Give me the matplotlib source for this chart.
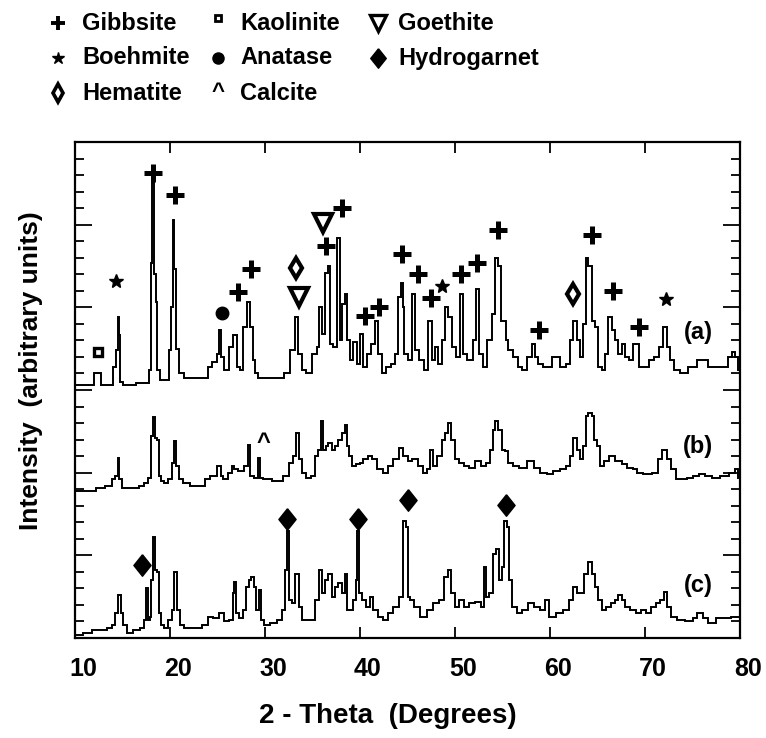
import matplotlib
matplotlib.use("Agg")
import matplotlib.pyplot as plt
from matplotlib.lines import Line2D
from matplotlib.transforms import ScaledTranslation
from matplotlib.ticker import MultipleLocator

plt.rcParams['font.family'] = ['Liberation Sans', 'DejaVu Sans']

# ---------------- data (2-theta in degrees, intensity in arbitrary units) -------------
a_theta = [10.0, 11.9, 12.2, 12.6, 12.8, 13.9, 14.2, 14.45, 14.56, 14.7, 14.85, 15.2, 17.7, 17.9,
           18.05, 18.25, 18.4, 18.55, 18.75, 19.1, 19.8, 20.0, 20.2, 20.35, 20.5, 20.7, 21.2, 21.8,
           23.9, 24.2, 24.7, 25.1, 25.26, 25.4, 25.9, 26.5, 26.84, 27.2, 27.5, 27.9, 28.25, 28.6,
           28.8, 29.1, 29.5, 31.6, 32.3, 33.0, 33.33, 33.7, 34.0, 34.6, 35.3, 35.6, 35.8, 36.1,
           36.5, 36.7, 37.0, 37.4, 37.72, 38.05, 38.25, 38.5, 38.8, 39.1, 39.5, 39.8, 40.2, 40.5,
           40.9, 41.4, 41.75, 42.1, 42.5, 43.0, 43.5, 43.9, 44.2, 44.4, 44.6, 44.75, 45.26, 45.61,
           45.96, 46.49, 47.02, 47.37, 47.72, 48.07, 48.42, 48.77, 49.12, 49.47, 49.82, 50.35,
           50.7, 51.05, 51.58, 52.11, 52.35, 52.63, 53.16, 53.68, 54.04, 54.39, 54.74, 54.91,
           55.26, 55.44, 55.79, 56.32, 56.84, 57.37, 57.89, 58.25, 58.6, 58.95, 59.65, 60.7,
           61.4, 61.93, 62.28, 62.63, 62.98, 63.33, 63.68, 63.86, 64.21, 64.56, 64.91, 65.26,
           65.61, 65.96, 66.32, 66.67, 67.02, 67.37, 67.72, 68.07, 68.6, 68.95, 69.3, 69.47,
           70.18, 70.7, 71.23, 71.75, 72.1, 72.46, 72.81, 73.33, 74.04, 75.09, 75.79, 76.32,
           77.02, 77.89, 78.42, 78.95, 79.3, 79.65, 80.0]
a_int = [15.3, 15.3, 16.0, 16.0, 15.3, 15.3, 16.4, 17.4, 19.4, 18.3, 15.5, 15.3, 15.4, 16.2,
         22.7, 27.5, 22.0, 20.3, 16.2, 15.6, 15.6, 17.4, 20.0, 25.3, 22.3, 17.5, 16.0, 15.7,
         15.7, 16.4, 16.7, 17.2, 18.6, 17.0, 16.2, 17.6, 18.3, 16.4, 16.2, 18.8, 20.35, 18.8,
         16.8, 16.0, 15.7, 15.7, 16.0, 17.4, 19.4, 17.2, 16.2, 16.0, 17.2, 17.6, 20.0, 18.4,
         22.1, 22.5, 17.8, 17.6, 24.2, 18.0, 20.2, 20.8, 18.0, 16.8, 17.9, 16.6, 18.4, 16.4,
         17.2, 17.8, 19.2, 17.2, 16.0, 16.4, 16.6, 17.2, 20.6, 21.5, 20.0, 17.2, 16.8, 20.8,
         17.4, 16.8, 16.2, 19.2, 16.8, 17.6, 16.6, 18.0, 20.0, 19.4, 17.6, 17.0,
         20.8, 17.2, 16.8, 18.0, 21.1, 17.2, 16.4, 18.0, 19.6, 23.0, 22.5, 19.2,
         19.2, 18.0, 17.4, 17.0, 16.4, 16.2, 17.0, 17.8, 17.0, 16.6, 16.4, 17.0,
         16.4, 16.6, 18.0, 19.2, 18.0, 17.0, 19.0, 23.0, 22.5, 19.2, 18.8, 16.4,
         16.2, 17.2, 19.4, 18.6, 18.0, 17.2, 17.8, 17.0, 16.8, 17.8, 17.8, 16.4,
         16.4, 16.8, 17.0, 17.6, 18.8, 17.6, 16.8, 16.2, 16.0, 16.4, 16.8, 16.8,
         16.4, 16.4, 16.4, 17.0, 17.3, 17.0, 16.2]

b_theta = [10.0, 11.9, 12.6, 13.7, 14.04, 14.39, 14.56, 14.74, 15.1, 16.5, 17.0, 17.54, 17.9,
           18.18, 18.32, 18.53, 18.70, 18.88, 19.12, 19.65, 20.0, 20.35, 20.53, 20.77, 21.05,
           21.75, 22.46, 23.51, 23.86, 24.56, 25.26, 25.44, 25.79, 26.32, 26.67, 26.84, 27.54,
           28.07, 28.25, 28.60, 29.12, 29.40, 29.54, 29.98, 31.58, 32.28, 32.81, 33.16, 33.44,
           33.75, 34.04, 34.56, 35.09, 35.44, 35.79, 35.96, 36.32, 36.49, 36.84, 37.19, 37.54,
           37.89, 38.25, 38.53, 38.67, 38.95, 39.3, 39.82, 40.18, 40.53, 41.05, 41.40, 42.11,
           42.63, 43.16, 43.86, 44.39, 44.74, 45.26, 45.79, 46.32, 46.84, 47.19, 47.54, 47.89,
           48.42, 48.77, 49.12, 49.4, 49.82, 50.18, 50.7, 51.23, 51.75, 52.46, 52.98, 53.51,
           53.86, 54.1, 54.39, 54.74, 55.09, 55.44, 55.79, 56.32, 57.19, 58.07, 58.6, 59.3,
           60.0, 60.7, 61.4, 61.93, 62.28, 62.63, 62.98, 63.33, 63.68, 63.86, 64.21, 64.56,
           64.74, 65.09, 65.44, 65.96, 66.49, 67.19, 67.89, 68.42, 68.95, 69.47, 70.18, 71.23,
           71.58, 72.1, 72.46, 72.98, 73.51, 74.04, 74.74, 75.44, 75.96, 76.67, 77.37, 78.42,
           79.3, 79.65, 80.0]
b_int = [8.9, 8.9, 9.1, 9.2, 9.6, 9.8, 10.9, 9.6, 9.1, 9.1, 9.2, 9.4, 9.7,
         12.2, 13.35, 12.1, 12.0, 9.8, 9.5, 9.4, 9.6, 10.6, 11.9, 10.4, 9.6,
         9.4, 9.2, 9.2, 9.6, 9.8, 10.4, 9.8, 9.6, 10.0, 10.4, 10.2, 10.1,
         10.4, 11.7, 9.8, 9.7, 10.9, 9.7, 9.6, 9.5, 9.8, 10.6, 11.0, 12.4,
         10.8, 10.0, 9.7, 9.8, 11.0, 11.4, 13.1, 11.4, 11.6, 11.8, 11.4, 11.6,
         12.0, 12.4, 12.9, 11.6, 11.0, 10.4, 10.5, 10.6, 10.8, 11.0, 10.8, 10.2,
         10.0, 10.4, 10.8, 11.5, 11.0, 10.7, 10.8, 10.4, 10.0, 10.2, 11.4, 10.4,
         11.0, 12.0, 12.4, 13.0, 12.0, 10.8, 10.6, 10.4, 10.3, 10.7, 10.4, 10.6,
         11.4, 12.6, 13.1, 12.6, 11.4, 11.3, 10.6, 10.4, 10.3, 10.7, 10.3, 10.0,
         9.9, 10.1, 10.2, 10.4, 11.0, 12.1, 11.4, 10.8, 11.6, 13.4, 13.6, 13.4,
         12.0, 11.6, 10.4, 10.7, 11.0, 10.7, 10.5, 10.3, 10.2, 10.0, 9.9, 10.0,
         10.8, 11.4, 10.8, 10.2, 9.6, 9.6, 9.7, 9.8, 9.9, 9.8, 9.7, 9.8,
         10.0, 10.2, 9.7]

c_theta = [10.0, 11.58, 11.93, 12.98, 13.68, 14.04, 14.39, 14.67, 14.91, 15.26, 15.79, 16.49,
           17.19, 17.37, 17.61, 17.75, 17.96, 18.11, 18.32, 18.53, 18.70, 18.88, 19.12, 19.65,
           20.0, 20.35, 20.53, 20.88, 21.12, 21.75, 22.81, 23.86, 24.21, 24.91, 25.44, 25.96,
           26.49, 26.67, 26.84, 27.09, 27.54, 27.89, 28.14, 28.42, 28.70, 28.95, 29.19, 29.47,
           29.65, 30.18, 30.88, 31.58, 32.0, 32.21, 32.46, 32.63, 32.98, 33.40, 33.68, 34.21,
           35.09, 35.44, 35.86, 36.14, 36.49, 36.84, 37.19, 37.54, 37.89, 38.25, 38.53, 38.77,
           39.12, 39.47, 39.65, 39.82, 40.0, 40.35, 40.88, 41.23, 41.58, 42.11, 42.63, 43.16,
           43.86, 44.39, 44.74, 44.95, 45.19, 45.44, 45.96, 46.67, 47.37, 48.07, 48.6, 49.12,
           49.4, 49.82, 50.18, 50.7, 51.23, 51.75, 52.46, 52.98, 53.16, 53.4, 53.86, 54.21,
           54.46, 54.74, 55.09, 55.26, 55.61, 55.79, 56.14, 56.84, 57.37, 58.07, 58.6, 59.3,
           59.65, 60.18, 61.05, 61.75, 62.28, 62.63, 62.98, 63.33, 63.86, 64.21, 64.56, 64.91,
           65.26, 65.61, 66.14, 66.67, 67.02, 67.37, 67.72, 68.07, 68.77, 69.3, 69.82, 70.35,
           70.88, 71.4, 71.75, 72.18, 72.46, 72.98, 73.68, 74.74, 75.26, 75.79, 76.32, 77.02,
           77.89, 78.77, 79.3, 80.0]
c_int = [0.2, 0.3, 0.5, 0.5, 0.6, 0.8, 1.5, 2.6, 1.5, 0.8, 0.3, 0.5,
         0.6, 1.1, 3.0, 1.1, 1.3, 3.5, 6.1, 4.1, 4.0, 1.5, 0.8, 0.6,
         1.1, 1.7, 4.0, 1.7, 0.8, 0.6, 0.6, 0.8, 1.3, 1.2, 1.5, 1.0,
         1.1, 2.7, 3.4, 1.5, 1.2, 1.7, 3.1, 3.5, 3.7, 3.1, 1.7, 2.9,
         1.1, 0.8, 0.9, 1.1, 1.7, 4.1, 6.5, 2.3, 2.1, 3.9, 1.9, 1.1,
         1.1, 2.3, 4.1, 2.7, 3.5, 3.9, 2.5, 3.1, 3.3, 2.7, 3.9, 1.7,
         1.7, 2.3, 3.5, 6.5, 2.7, 2.3, 1.9, 2.5, 1.7, 1.3, 1.1, 1.5,
         1.9, 2.5, 7.1, 6.7, 2.5, 2.3, 1.9, 1.3, 1.7, 2.1, 2.3, 3.7,
         4.1, 2.7, 1.9, 2.3, 1.9, 2.1, 2.2, 1.9, 4.3, 2.5, 2.7, 5.1,
         5.4, 3.5, 4.3, 7.1, 6.7, 3.5, 1.9, 1.5, 1.7, 2.1, 1.9, 1.7,
         2.3, 1.3, 1.5, 1.7, 2.3, 3.1, 2.7, 2.7, 3.9, 4.6, 3.9, 3.1,
         2.3, 1.7, 1.9, 2.1, 2.3, 2.6, 2.3, 1.9, 1.7, 1.5, 1.7, 1.5,
         1.9, 2.1, 2.3, 2.8, 1.9, 1.3, 1.1, 1.0, 1.2, 1.5, 1.2, 0.9,
         1.2, 1.2, 1.3, 1.3]

# phase identification markers (2-theta, height)
gibbsite_x = [18.25, 20.5, 27.2, 28.5, 36.4, 38.1, 40.5, 42.0, 44.4, 46.1, 47.5, 50.6, 52.35, 54.55, 58.8, 64.4, 66.6, 69.4]
gibbsite_y = [28.1, 26.8, 20.9, 22.3, 23.7, 26.0, 19.45, 20.05, 23.2, 22.0, 20.55, 22.0, 22.7, 24.7, 18.6, 24.4, 21.0, 18.8]
boehmite_x = [14.3, 48.6, 72.2]
boehmite_y = [21.6, 21.3, 20.5]
hematite_x = [33.3, 62.4]
hematite_y = [22.4, 20.8]
kaolinite_x = [12.45]
kaolinite_y = [17.3]
anatase_x = [25.5]
anatase_y = [19.65]
calcite_x = [29.8]
calcite_y = [11.8]
goethite_x = [33.6, 36.1]
goethite_y = [20.6, 25.1]
hydrogarnet_x = [17.1, 32.3, 39.75, 45.1, 55.4]
hydrogarnet_y = [4.4, 7.2, 7.2, 8.35, 8.05]

trace_labels = ['(a)', '(b)', '(c)']
trace_label_y = [18.5, 11.6, 3.2]

legend_names = ['Gibbsite', 'Boehmite', 'Hematite', 'Kaolinite', 'Anatase', 'Calcite', 'Goethite', 'Hydrogarnet']

x_ticks = [10, 20, 30, 40, 50, 60, 70, 80]

# ---------------- figure -------------
W, H = 766, 738
fig = plt.figure(figsize=(W / 100, H / 100), dpi=100)
ax = fig.add_axes([75 / W, 1 - 638 / H, 665 / W, 496 / H])

for th, it in ((a_theta, a_int), (b_theta, b_int), (c_theta, c_int)):
    ax.plot(th, it, color='black', lw=1.4, drawstyle='steps-mid', solid_joinstyle='miter')

hdiamond = [(0, 1), (0.8, 0), (0, -1), (-0.8, 0), (0, 1)]

mk = dict(color='black', linestyle='none')
ax.plot(gibbsite_x, gibbsite_y, marker='+', ms=12.5, mew=3.6, **mk)
ax.plot(boehmite_x, boehmite_y, marker='*', ms=10, **mk)
ax.plot(hematite_x, hematite_y, marker='d', ms=10, mew=3.0, mfc='white', **mk)
ax.plot(kaolinite_x, kaolinite_y, marker='s', ms=6, mew=2.4, mfc='white', **mk)
ax.plot(anatase_x, anatase_y, marker='o', ms=9, **mk)
ax.plot(goethite_x, goethite_y, marker='v', ms=13.5, mew=3.0, mfc='white', **mk)
ax.plot(hydrogarnet_x, hydrogarnet_y, marker=hdiamond, ms=15.5, **mk)
for x, y in zip(calcite_x, calcite_y):
    ax.text(x, y, '^', ha='center', va='center', fontsize=17, fontweight='bold')

for lab, y in zip(trace_labels, trace_label_y):
    ax.text(75.6, y, lab, ha='center', va='center', fontsize=17, fontweight='bold')

ax.set_xlim(10, 80)
ax.set_ylim(0, 30)
ax.set_xticks(x_ticks)
ax.set_xticklabels([str(t) for t in x_ticks], fontsize=18, fontweight='bold')
ax.yaxis.set_major_locator(MultipleLocator(5))
ax.yaxis.set_minor_locator(MultipleLocator(1))
ax.set_yticklabels([])
ax.tick_params(axis='x', which='major', direction='in', top=True, bottom=True, length=8, width=1.3, pad=14)
ax.tick_params(axis='y', which='major', direction='in', left=True, right=True, length=12, width=1.3, labelleft=False)
ax.tick_params(axis='y', which='minor', direction='in', left=True, right=True, length=6.5, width=1.3)
for s in ax.spines.values():
    s.set_linewidth(1.6)

off = ScaledTranslation(8 / 100, 0, fig.dpi_scale_trans)
for lbl in ax.get_xticklabels():
    lbl.set_transform(lbl.get_transform() + off)

ax.set_xlabel('2 - Theta  (Degrees)', fontsize=20, fontweight='bold', va='center')
ax.xaxis.set_label_coords((388 - 75) / 665, (638 - 716) / 496)
ax.set_ylabel('Intensity  (arbitrary units)', fontsize=19, fontweight='bold', va='center')
ax.yaxis.set_label_coords((31 - 75) / 665, (638 - 371) / 496)

# ---------------- legend (drawn at the top) -------------
def fx(px):
    return px / W

def fy(py):
    return 1 - py / H

col_marker_x = [58, 218, 378]
col_text_x = [82, 240, 398]
row_y = [23, 58, 93]

legend_specs = [
    (0, 0, dict(marker='+', ms=10, mew=2.8)),
    (0, 1, dict(marker='*', ms=9)),
    (0, 2, dict(marker='d', ms=9, mew=2.6, mfc='white')),
    (1, 0, dict(marker='s', ms=5, mew=2.0, mfc='white')),
    (1, 1, dict(marker='o', ms=8)),
    (1, 2, None),
    (2, 0, dict(marker='v', ms=11, mew=2.4, mfc='white')),
    (2, 1, dict(marker=hdiamond, ms=14)),
]
for name, (col, row, style) in zip(legend_names, legend_specs):
    mx, my = fx(col_marker_x[col]), fy(row_y[row])
    if style is None:
        fig.text(mx, my, '^', ha='center', va='center', fontsize=16, fontweight='bold')
    else:
        dy = -5 if name == 'Kaolinite' else 0
        fig.add_artist(Line2D([mx], [fy(row_y[row] + dy)], color='black', linestyle='none',
                              transform=fig.transFigure, **style))
    fig.text(fx(col_text_x[col]), my, name, ha='left', va='center', fontsize=17, fontweight='bold')

fig.savefig('out.png', dpi=100)
